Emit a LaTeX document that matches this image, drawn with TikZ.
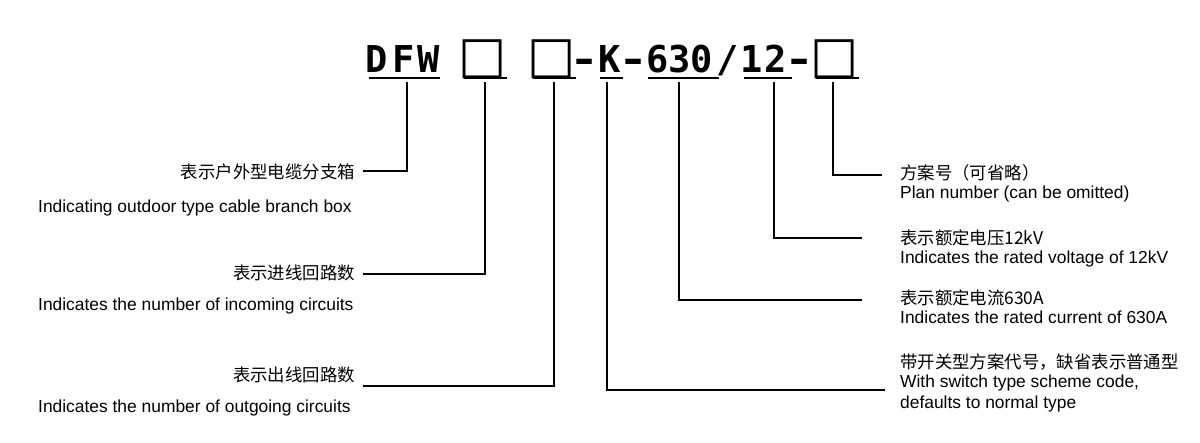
\documentclass[tikz,border=0pt]{standalone}
\usepackage{fontspec}
\setmainfont{Liberation Sans}
\newfontfamily\cjk{Noto Sans CJK SC}
\newfontfamily\titlefont{DejaVu Sans Mono}
\newfontfamily\boxfont{DejaVu Sans}
\newcommand{\widedash}{\makebox[16pt]{\scalebox{1.35}[1]{-}}}
\begin{document}
\begin{tikzpicture}[x=1pt,y=-1pt,
  ch/.style={anchor=base,inner sep=0pt,font=\titlefont\bfseries\fontsize{37}{37}\selectfont},
  bx/.style={anchor=center,inner sep=0pt,font=\boxfont\fontsize{51}{51}\selectfont},
  uline/.style={line width=2pt},
  conn/.style={line width=2pt},
  cn/.style={anchor=base west,inner sep=0pt,font=\cjk\fontsize{17.4}{20}\selectfont},
  cnr/.style={anchor=base east,inner sep=0pt,font=\cjk\fontsize{17.4}{20}\selectfont},
  en/.style={anchor=base west,inner sep=0pt,font=\fontsize{17.4}{20}\selectfont},
]
\useasboundingbox (0,0) rectangle (1200,443);
\fill[white] (0,0) rectangle (1200,443);
% title characters
\node[ch] (tD) at (377,73) {D};
\node[ch] (tF) at (404,73) {F};
\node[ch] (tW) at (429,73) {W};
\node[bx] (b1) at (483,59) {□};
\node[bx] (b2) at (552,59) {□};
\node[ch] (h1) at (585,73) {\widedash};
\node[ch] (tK) at (610,73) {K};
\node[ch] (h2) at (634,73) {\widedash};
\node[ch] (d6) at (658,73) {6};
\node[ch] (d3) at (680,73) {3};
\node[ch] (d0) at (702,73) {0};
\node[ch] (sl) at (728,73) {/};
\node[ch] (d1) at (752,73) {1};
\node[ch] (d2) at (776,73) {2};
\node[ch] (h3) at (800,73) {\widedash};
\node[bx] (b3) at (835,59) {□};
% underlines
\draw[uline] (369,78) -- (440,78);
\draw[uline] (464,78) -- (507,78);
\draw[uline] (533,78) -- (576,78);
\draw[uline] (600,78) -- (623,78);
\draw[uline] (648,78) -- (719,78);
\draw[uline] (744,78) -- (792,78);
\draw[uline] (816,78) -- (859,78);
% stub tops
\coordinate (s1) at (407,82);
\coordinate (s2) at (485,82);
\coordinate (s3) at (554,82);
\coordinate (s4) at (607,82);
\coordinate (s5) at (679,82);
\coordinate (s6) at (774,82);
\coordinate (s7) at (833,82);
% connector ends
\coordinate (k1) at (363,171);
\coordinate (k2) at (363,274);
\coordinate (k3) at (363,386);
\coordinate (k4) at (885,390);
\coordinate (k5) at (862,300);
\coordinate (k6) at (862,238);
\coordinate (k7) at (882,175);
\draw[conn] (s1) |- (k1);
\draw[conn] (s2) |- (k2);
\draw[conn] (s3) |- (k3);
\draw[conn] (s4) |- (k4);
\draw[conn] (s5) |- (k5);
\draw[conn] (s6) |- (k6);
\draw[conn] (s7) |- (k7);
% left texts
\node[cnr] (c1) at (355,178.5) {表示户外型电缆分支箱};
\node[en] (e1) at (38,212.5) {Indicating outdoor type cable branch box};
\node[cnr] (c2) at (355,279.5) {表示进线回路数};
\node[en] (e2) at (38,310.5) {Indicates the number of incoming circuits};
\node[cnr] (c3) at (355,381.5) {表示出线回路数};
\node[en] (e3) at (38,412.5) {Indicates the number of outgoing circuits};
% right texts
\node[cn] (r1) at (900,179.5) {方案号（可省略）};
\node[en] (f1) at (900,198.5) {Plan number (can be omitted)};
\node[cn] (r2) at (900,244.5) {表示额定电压12kV};
\node[en] (f2) at (900,263.5) {Indicates the rated voltage of 12kV};
\node[cn] (r3) at (900,304.5) {表示额定电流630A};
\node[en] (f3) at (900,323.5) {Indicates the rated current of 630A};
\node[cn] (r4) at (900,368.5) {带开关型方案代号，缺省表示普通型};
\node[en] (f4) at (900,387.5) {With switch type scheme code,};
\node[en] (f5) at (900,408.5) {defaults to normal type};
\end{tikzpicture}
\end{document}
